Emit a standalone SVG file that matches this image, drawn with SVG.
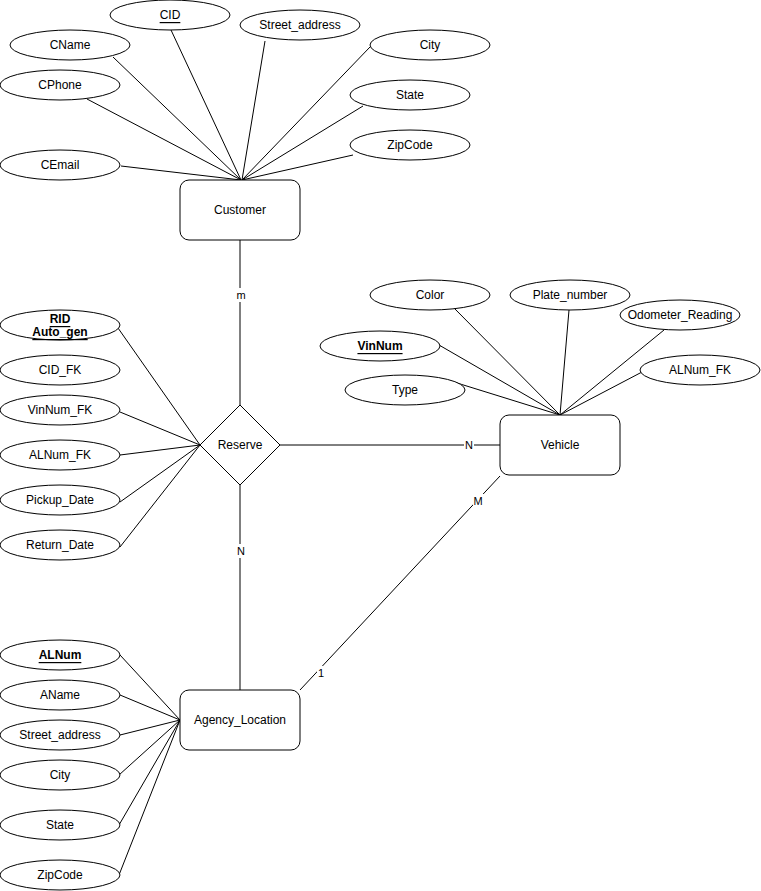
<svg xmlns="http://www.w3.org/2000/svg" width="761" height="891" viewBox="0 0 761 891">
<style>
text{font-family:"Liberation Sans",Arial,sans-serif;font-size:12px;fill:#000;text-anchor:middle;dominant-baseline:central}
.attr ellipse{fill:#fff;stroke:#000;stroke-width:1}
.ent rect{fill:#fff;stroke:#000;stroke-width:1}
.rel polygon{fill:#fff;stroke:#000;stroke-width:1}
#connectors line{stroke:#000;stroke-width:1}
.key{text-decoration:underline}
.bkey{text-decoration:underline;font-weight:bold}
.lbl{font-size:11px}
.lblbg{fill:#fff}
</style>
<rect width="761" height="891" fill="#fff"/>
<g id="connectors">
<line x1="171" y1="30" x2="241" y2="180"/>
<line x1="113" y1="57" x2="241" y2="180"/>
<line x1="87" y1="99" x2="241" y2="180"/>
<line x1="121" y1="166" x2="241" y2="180"/>
<line x1="265" y1="41" x2="242" y2="180"/>
<line x1="370" y1="47" x2="242" y2="180"/>
<line x1="363" y1="106" x2="242" y2="180"/>
<line x1="353" y1="155" x2="242" y2="180"/>
<line x1="240" y1="240" x2="240" y2="405"/>
<line x1="118" y1="328" x2="200" y2="445"/>
<line x1="120" y1="412" x2="200" y2="445"/>
<line x1="120" y1="455" x2="200" y2="445"/>
<line x1="120" y1="502" x2="200" y2="445"/>
<line x1="120" y1="547" x2="200" y2="445"/>
<line x1="280" y1="445" x2="500" y2="445"/>
<line x1="453" y1="307" x2="560" y2="415"/>
<line x1="569" y1="310" x2="560" y2="415"/>
<line x1="664" y1="330" x2="560" y2="415"/>
<line x1="439" y1="345" x2="560" y2="415"/>
<line x1="457" y1="383" x2="560" y2="415"/>
<line x1="642" y1="372" x2="560" y2="415"/>
<line x1="240" y1="485" x2="240" y2="690"/>
<line x1="500" y1="476" x2="300" y2="690"/>
<line x1="120" y1="655" x2="180" y2="720"/>
<line x1="120" y1="695" x2="180" y2="720"/>
<line x1="120" y1="735" x2="180" y2="720"/>
<line x1="119" y1="775" x2="180" y2="720"/>
<line x1="119" y1="825" x2="180" y2="720"/>
<line x1="119" y1="875" x2="180" y2="720"/>
<rect class="lblbg" x="236" y="288" width="10" height="14"/>
<text class="lbl" x="241" y="295">m</text>
<rect class="lblbg" x="464" y="438" width="10" height="14"/>
<text class="lbl" x="469" y="445">N</text>
<rect class="lblbg" x="236" y="544" width="10" height="14"/>
<text class="lbl" x="241" y="551">N</text>
<rect class="lblbg" x="473" y="494" width="11" height="14"/>
<text class="lbl" x="478" y="501">M</text>
<rect class="lblbg" x="317" y="666" width="8" height="14"/>
<text class="lbl" x="321" y="673">1</text>
</g>
<g id="CID" class="attr"><ellipse cx="170" cy="15" rx="60" ry="15"/><text class="key" x="170" y="15">CID</text></g>
<g id="CName" class="attr"><ellipse cx="70" cy="45" rx="60" ry="15"/><text x="70" y="45">CName</text></g>
<g id="CPhone" class="attr"><ellipse cx="60" cy="85" rx="60" ry="15"/><text x="60" y="85">CPhone</text></g>
<g id="CEmail" class="attr"><ellipse cx="60" cy="165" rx="60" ry="15"/><text x="60" y="165">CEmail</text></g>
<g id="C_Street" class="attr"><ellipse cx="300" cy="25" rx="60" ry="15"/><text x="300" y="25">Street_address</text></g>
<g id="C_City" class="attr"><ellipse cx="430" cy="45" rx="60" ry="15"/><text x="430" y="45">City</text></g>
<g id="C_State" class="attr"><ellipse cx="410" cy="95" rx="60" ry="15"/><text x="410" y="95">State</text></g>
<g id="C_Zip" class="attr"><ellipse cx="410" cy="145" rx="60" ry="15"/><text x="410" y="145">ZipCode</text></g>
<g id="Customer" class="ent"><rect x="180" y="180" width="120" height="60" rx="9"/><text x="240" y="210">Customer</text></g>
<g id="RID" class="attr"><ellipse cx="60" cy="325" rx="60" ry="15"/><text class="bkey" x="60" y="319">RID</text><text class="bkey" x="60" y="332">Auto_gen</text></g>
<g id="CID_FK" class="attr"><ellipse cx="60" cy="370" rx="60" ry="15"/><text x="60" y="370">CID_FK</text></g>
<g id="VinNum_FK" class="attr"><ellipse cx="60" cy="410" rx="60" ry="15"/><text x="60" y="410">VinNum_FK</text></g>
<g id="R_ALNum_FK" class="attr"><ellipse cx="60" cy="455" rx="60" ry="15"/><text x="60" y="455">ALNum_FK</text></g>
<g id="Pickup_Date" class="attr"><ellipse cx="60" cy="500" rx="60" ry="15"/><text x="60" y="500">Pickup_Date</text></g>
<g id="Return_Date" class="attr"><ellipse cx="60" cy="545" rx="60" ry="15"/><text x="60" y="545">Return_Date</text></g>
<g id="Reserve" class="rel"><polygon points="200,445 240,405 280,445 240,485"/><text x="240" y="445">Reserve</text></g>
<g id="Color" class="attr"><ellipse cx="430" cy="295" rx="60" ry="15"/><text x="430" y="295">Color</text></g>
<g id="Plate_number" class="attr"><ellipse cx="570" cy="295" rx="60" ry="15"/><text x="570" y="295">Plate_number</text></g>
<g id="Odometer_Reading" class="attr"><ellipse cx="680" cy="315" rx="60" ry="15"/><text x="680" y="315">Odometer_Reading</text></g>
<g id="VinNum" class="attr"><ellipse cx="380" cy="346" rx="60" ry="15"/><text class="bkey" x="380" y="346">VinNum</text></g>
<g id="Type" class="attr"><ellipse cx="405" cy="390" rx="60" ry="15"/><text x="405" y="390">Type</text></g>
<g id="V_ALNum_FK" class="attr"><ellipse cx="700" cy="370" rx="60" ry="15"/><text x="700" y="370">ALNum_FK</text></g>
<g id="Vehicle" class="ent"><rect x="500" y="415" width="120" height="60" rx="9"/><text x="560" y="445">Vehicle</text></g>
<g id="ALNum" class="attr"><ellipse cx="60" cy="655" rx="60" ry="15"/><text class="bkey" x="60" y="655">ALNum</text></g>
<g id="AName" class="attr"><ellipse cx="60" cy="695" rx="60" ry="15"/><text x="60" y="695">AName</text></g>
<g id="A_Street" class="attr"><ellipse cx="60" cy="735" rx="60" ry="15"/><text x="60" y="735">Street_address</text></g>
<g id="A_City" class="attr"><ellipse cx="60" cy="775" rx="60" ry="15"/><text x="60" y="775">City</text></g>
<g id="A_State" class="attr"><ellipse cx="60" cy="825" rx="60" ry="15"/><text x="60" y="825">State</text></g>
<g id="A_Zip" class="attr"><ellipse cx="60" cy="875" rx="60" ry="15"/><text x="60" y="875">ZipCode</text></g>
<g id="Agency_Location" class="ent"><rect x="180" y="690" width="120" height="60" rx="9"/><text x="240" y="720">Agency_Location</text></g>
</svg>
